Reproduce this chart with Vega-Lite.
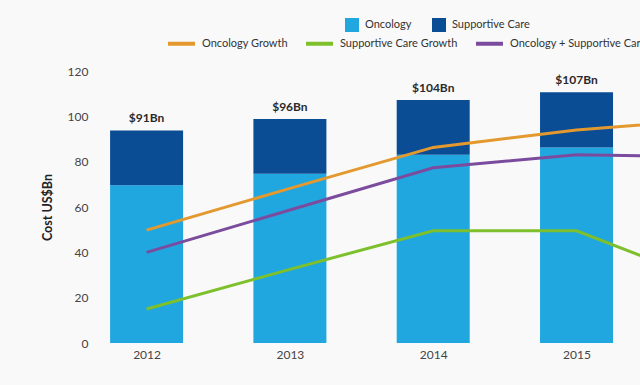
{
  "$schema": "https://vega.github.io/schema/vega-lite/v6.json",
  "width": 548,
  "height": 272,
  "autosize": {"type": "none"},
  "padding": {"left": 92, "top": 71, "right": 0, "bottom": 42},
  "background": "#f9f9fa",
  "config": {
    "view": {"stroke": null},
    "font": "Lato",
    "text": {"font": "Lato"}
  },
  "layer": [
    {
      "data": {
        "values": [
          {"year": 2012, "category": "Oncology", "value": 69.6},
          {"year": 2012, "category": "Supportive Care", "value": 24.2},
          {"year": 2013, "category": "Oncology", "value": 74.7},
          {"year": 2013, "category": "Supportive Care", "value": 24.1},
          {"year": 2014, "category": "Oncology", "value": 83.1},
          {"year": 2014, "category": "Supportive Care", "value": 24.1},
          {"year": 2015, "category": "Oncology", "value": 86.3},
          {"year": 2015, "category": "Supportive Care", "value": 24.3}
        ]
      },
      "mark": {"type": "bar", "orient": "vertical", "width": 73},
      "encoding": {
        "x": {
          "field": "year",
          "type": "quantitative",
          "scale": {"domain": [2011.654, 2015.408], "nice": false, "zero": false},
          "axis": {
            "title": null,
            "values": [2012, 2013, 2014, 2015],
            "format": "d",
            "grid": false,
            "domain": false,
            "ticks": false,
            "labelPadding": 6,
            "labelFontSize": 12,
            "labelColor": "#444444",
            "labelFont": "Lato"
          }
        },
        "y": {
          "field": "value",
          "type": "quantitative",
          "stack": "zero",
          "scale": {"domain": [0, 120], "nice": false},
          "axis": {
            "title": "Cost US$Bn",
            "titleFontWeight": "bold",
            "titleFontSize": 12.5,
            "titleColor": "#222222",
            "titleFont": "Lato",
            "titlePadding": 13,
            "values": [0, 20, 40, 60, 80, 100, 120],
            "grid": false,
            "domain": false,
            "ticks": false,
            "labelPadding": 4,
            "labelFontSize": 12,
            "labelColor": "#444444",
            "labelFont": "Lato"
          }
        },
        "color": {
          "field": "category",
          "type": "nominal",
          "scale": {"domain": ["Oncology", "Supportive Care"], "range": ["#21a7e0", "#0a4d95"]},
          "legend": {
            "title": null,
            "orient": "none",
            "direction": "horizontal",
            "legendX": 253,
            "legendY": -53,
            "symbolType": "square",
            "symbolSize": 196,
            "symbolStrokeWidth": 0,
            "labelFontSize": 11,
            "labelColor": "#333333",
            "labelFont": "Lato",
            "labelOffset": 6,
            "columnPadding": 20
          }
        },
        "order": {"field": "category", "sort": "ascending"}
      }
    },
    {
      "data": {
        "values": [
          {"year": 2012, "total": 93.8, "label": "$91Bn"},
          {"year": 2013, "total": 98.8, "label": "$96Bn"},
          {"year": 2014, "total": 107.2, "label": "$104Bn"},
          {"year": 2015, "total": 110.6, "label": "$107Bn"}
        ]
      },
      "mark": {"type": "text", "baseline": "bottom", "dy": -5, "fontWeight": "bold", "fontSize": 12, "color": "#2a2a2a", "font": "Lato"},
      "encoding": {
        "x": {"field": "year", "type": "quantitative"},
        "y": {"field": "total", "type": "quantitative"},
        "text": {"field": "label"}
      }
    },
    {
      "data": {
        "values": [
          {"year": 2012, "series": "Oncology Growth", "value": 49.8},
          {"year": 2013, "series": "Oncology Growth", "value": 68.2},
          {"year": 2014, "series": "Oncology Growth", "value": 86.3},
          {"year": 2015, "series": "Oncology Growth", "value": 94},
          {"year": 2016, "series": "Oncology Growth", "value": 99},
          {"year": 2012, "series": "Supportive Care Growth", "value": 15},
          {"year": 2013, "series": "Supportive Care Growth", "value": 32.5},
          {"year": 2014, "series": "Supportive Care Growth", "value": 49.5},
          {"year": 2015, "series": "Supportive Care Growth", "value": 49.5},
          {"year": 2016, "series": "Supportive Care Growth", "value": 25},
          {"year": 2012, "series": "Oncology + Supportive Care Growth", "value": 40},
          {"year": 2013, "series": "Oncology + Supportive Care Growth", "value": 58.7},
          {"year": 2014, "series": "Oncology + Supportive Care Growth", "value": 77.3},
          {"year": 2015, "series": "Oncology + Supportive Care Growth", "value": 83},
          {"year": 2016, "series": "Oncology + Supportive Care Growth", "value": 82}
        ]
      },
      "mark": {"type": "line", "clip": true, "strokeWidth": 3},
      "encoding": {
        "x": {"field": "year", "type": "quantitative"},
        "y": {"field": "value", "type": "quantitative"},
        "stroke": {
          "field": "series",
          "type": "nominal",
          "scale": {
            "domain": ["Oncology Growth", "Supportive Care Growth", "Oncology + Supportive Care Growth"],
            "range": ["#e3992d", "#7dc02b", "#7b4c9e"]
          },
          "legend": {
            "title": null,
            "orient": "none",
            "direction": "horizontal",
            "legendX": 74,
            "legendY": -43,
            "symbolType": "stroke",
            "symbolSize": 729,
            "symbolStrokeWidth": 4,
            "labelFontSize": 11,
            "labelColor": "#333333",
            "labelFont": "Lato",
            "labelOffset": 5,
            "columnPadding": 10
          }
        }
      }
    }
  ]
}
